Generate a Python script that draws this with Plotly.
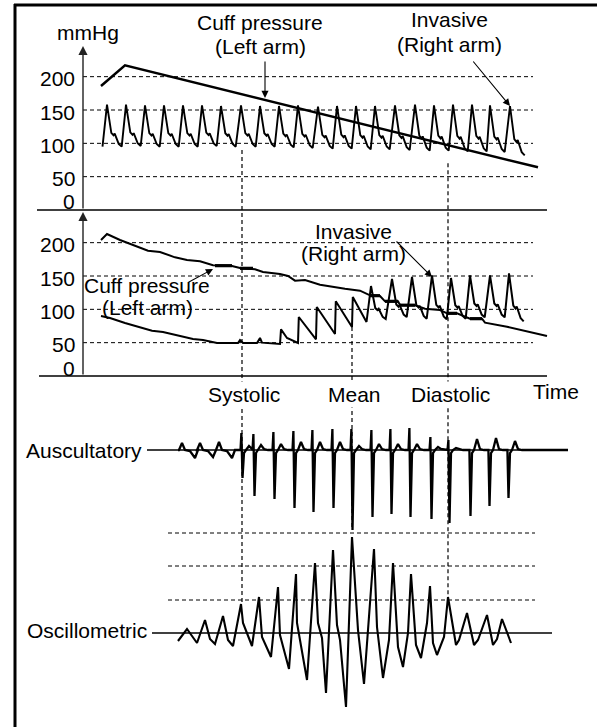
import plotly.graph_objects as go

# ---------------- data ----------------
# time: arbitrary units (0 = pressure axis); pressure: mmHg;
# auscultatory / oscillometric amplitudes: arbitrary units
TICK_VALUES = [0, 50, 100, 150, 200]
TICK_LABELS = ["0", "50", "100", "150", "200"]
GRID_VALUES = [50, 100, 150, 200]
GRID_T = [0, 450]
TOP_AXIS_T = [-46, 464]
MID_AXIS_T = [-44, 464]

# top panel
TOP_CUFF_T = [18, 42, 455]
TOP_CUFF_MMHG = [186, 217, 64]
TOP_BEAT_T = [24, 43, 62, 81, 100, 119, 138, 158, 177, 196, 215, 235, 254, 273,
              292, 312, 332, 351, 370, 389, 407, 427]
TOP_PEAK_MMHG = [158, 158, 157, 157, 157, 157, 156, 157, 156, 156, 157, 155, 156, 156,
                 156, 157, 158, 157, 158, 158, 157, 156]
TOP_TROUGH_MMHG = [95, 95, 96, 95, 95, 95, 96, 95, 95, 95, 94, 93, 92, 92, 91, 91, 90,
                   89, 89, 88, 88, 87, 82]

# middle panel
MID_CUFF_T = [18, 24, 37, 52, 65, 77, 92, 104, 117, 130, 149, 157, 172, 180, 197, 205,
              212, 222, 237, 262, 277, 287, 297, 302, 315, 317, 332, 342, 357, 364,
              374, 387, 399, 402, 424, 464]
MID_CUFF_MMHG = [204, 213, 204, 196, 188, 186, 178, 174, 172, 166, 165, 162, 160, 156,
                 153, 150, 143, 144, 137, 131, 128, 121, 120, 112, 112, 106.5, 106, 101,
                 99, 94, 94, 86, 86, 80, 74, 60]
# short stretches where the cuff trace is drawn heavier (start t, end t, mmHg)
MID_CUFF_BOLD_T0 = [132, 157, 287, 302, 317, 364, 387]
MID_CUFF_BOLD_T1 = [149, 170, 297, 315, 332, 374, 399]
MID_CUFF_BOLD_MMHG = [165.5, 161.5, 120.5, 112, 106.2, 94, 86]
MID_PRE_T = [18, 27, 42, 69, 80, 97, 110, 120, 134, 155, 157, 160, 174, 177, 179, 197,
             198, 204, 214]
MID_PRE_MMHG = [90, 87, 79.5, 68, 66, 60, 55.5, 54, 49.5, 49.5, 54, 49.5, 49.5, 57, 50,
                48, 70, 57, 49.5]
MID_SAW_T = [215, 233, 252, 269]
MID_SAW_PEAK = [88.5, 103.5, 112, 118.5]
MID_SAW_TROUGH = [49.5, 55, 63, 73.5]
MID_BEAT_T = [288, 309, 329, 349, 368, 387, 407, 426]
MID_PEAK = [135, 145.5, 148.5, 151, 147, 151, 151, 154]
MID_TROUGH = [81, 85.5, 88.5, 86, 85, 86, 88, 88, 82]

# auscultatory (Korotkoff sounds)
AUS_PRE_T = [99, 117, 136]
AUS_PRE_UP = [7, 7, 8]
AUS_PRE_DIP = [8, 7, 8]
AUS_BEAT_T = [159, 171, 191, 211, 230, 250, 269, 289, 308, 327, 348, 366, 387, 406, 425]
AUS_UP = [17, 16, 18, 19, 20, 21, 21, 20, 21, 22, 13, 10, 0, 0, 0]
AUS_DOWN = [28, 46, 49, 58, 62, 58, 80, 67, 64, 67, 69, 73, 66, 56, 48]
AUS_BUMP = [4, 5, 6, 8, 8, 8, 4, 6, 6, 6, 3, 2, 11, 12, 9]
AUS_START_T = 95
AUS_END_T = 485
AUS_BASE_T = [64, 485]

# oscillometric
OSC_T = [95, 104, 114, 122, 127, 132, 140, 145, 150, 158, 160, 167, 169, 176, 179, 188,
         195, 197, 206, 213, 214, 224, 232, 235, 239, 243, 250, 254, 257, 263, 269, 275,
         281, 291, 294, 300, 306, 310, 315, 320, 325, 328, 333, 338, 344, 347, 350, 354,
         361, 365, 373, 376, 384, 391, 395, 404, 410, 414, 419, 428]
OSC_AMP = [-8, 4, -10, 13, -6, -11, 17, -7, -13, 29, 10, -7, -13, 36, -4, -24,
           46, -2, -36, 59, 10, -47, 70, 10, -5, -60, 83, 8, -7, -74, 96, 3,
           -51, 84, 6, -45, -7, 70, -14, -34, 0, 59, -12, -25, 10, 47, -10, -22,
           -4, 36, -12, -7, 20, -12, -7, 18, -12, -6, 14, -10]
OSC_GRID = [33, 67, 100]
OSC_GRID_T = [85, 452]
OSC_BASE_T = [69, 469]

# measurement markers
MARKER_NAMES = ["Systolic", "Mean", "Diastolic"]
MARKER_T = [159, 269, 365]
MARKER_FROM = [("y", 90), ("y2", 73.5), ("y", 70)]
MARKER_TO = [("y4", 29), ("y3", -80), ("y4", 36)]

# ---------------- layout geometry (pixels of a 597 x 727 canvas) ----------------
W, H = 597, 727
X_RANGE = [-83, 514]
RANGES = {
    "y": [-775.5, 315],    # top pressure panel
    "y2": [-526.5, 564],   # middle pressure panel
    "y3": [-277, 450],     # auscultatory
    "y4": [-94, 633],      # oscillometric
}
FONT = "Liberation Sans, Arial, Helvetica, sans-serif"
FS = 21


def to_paper(axis, v):
    r0, r1 = RANGES[axis]
    return (v - r0) / (r1 - r0)


# pulse templates (shape only; levels come from the arrays above)
ART_DT = [-4.5, 0, 4.3, 6.5, 7.7, 11.7, 14.7]
ART_FRAC = [0, 1, 0.33, 0.27, 0.31, 0.065, 0]


def arterial(beat_t, peaks, troughs):
    t = [beat_t[0] + ART_DT[0]]
    v = [troughs[0]]
    for i, (bt, pk) in enumerate(zip(beat_t, peaks)):
        base = troughs[i + 1]
        for dt, fr in zip(ART_DT[1:], ART_FRAC[1:]):
            t.append(bt + dt)
            v.append(base + fr * (pk - base))
    return t, v


top_inv_t, top_inv_v = arterial(TOP_BEAT_T, TOP_PEAK_MMHG, TOP_TROUGH_MMHG)

mid_inv_t = list(MID_PRE_T)
mid_inv_v = list(MID_PRE_MMHG)
for bt, pk, tr in zip(MID_SAW_T, MID_SAW_PEAK, MID_SAW_TROUGH):
    mid_inv_t += [bt, bt + 0.8]
    mid_inv_v += [tr, pk]
t2, v2 = arterial(MID_BEAT_T, MID_PEAK, MID_TROUGH)
mid_inv_t += t2
mid_inv_v += v2

# auscultatory signal
aus_t = [AUS_START_T]
aus_v = [0]
for bt, up, dip in zip(AUS_PRE_T, AUS_PRE_UP, AUS_PRE_DIP):
    for dt, val in zip([-3, 0, 3, 8, 13, 16], [0, up, 0, -1, -dip, 0]):
        aus_t.append(bt + dt)
        aus_v.append(val)
K_DT = [-1.5, -0.6, 0.5, 2.0, 4, 7, 10, 14]
for i, bt in enumerate(AUS_BEAT_T):
    nxt = AUS_BEAT_T[i + 1] + K_DT[0] if i + 1 < len(AUS_BEAT_T) else 1e9
    vals = [0, AUS_UP[i], -AUS_DOWN[i], -3, 0, AUS_BUMP[i], 1, 0]
    for dt, val in zip(K_DT, vals):
        if bt + dt < nxt:
            aus_t.append(bt + dt)
            aus_v.append(val)
aus_t.append(AUS_END_T)
aus_v.append(0)


def hlines(values, t0, t1):
    xs, ys = [], []
    for v, a, b in zip(values, t0, t1):
        xs += [a, b, None]
        ys += [v, v, None]
    return xs, ys


fig = go.Figure()
DASH = "4px,3px"

gx, gy = hlines(GRID_VALUES, [GRID_T[0]] * 4, [GRID_T[1]] * 4)
fig.add_trace(go.Scatter(x=gx, y=gy, yaxis="y", mode="lines",
                         line=dict(color="black", width=1, dash=DASH)))
fig.add_trace(go.Scatter(x=gx, y=gy, yaxis="y2", mode="lines",
                         line=dict(color="black", width=1, dash=DASH)))
ox, oy = hlines(OSC_GRID, [OSC_GRID_T[0]] * 3, [OSC_GRID_T[1]] * 3)
fig.add_trace(go.Scatter(x=ox, y=oy, yaxis="y4", mode="lines",
                         line=dict(color="black", width=1, dash=DASH)))

# panel time axes and signal baselines
fig.add_trace(go.Scatter(x=TOP_AXIS_T, y=[0, 0], yaxis="y", mode="lines",
                         line=dict(color="black", width=1.3)))
fig.add_trace(go.Scatter(x=MID_AXIS_T, y=[0, 0], yaxis="y2", mode="lines",
                         line=dict(color="black", width=1.3)))
fig.add_trace(go.Scatter(x=AUS_BASE_T, y=[0, 0], yaxis="y3", mode="lines",
                         line=dict(color="black", width=1.3)))
fig.add_trace(go.Scatter(x=OSC_BASE_T, y=[0, 0], yaxis="y4", mode="lines",
                         line=dict(color="black", width=1.3)))

# pressure traces
fig.add_trace(go.Scatter(x=TOP_CUFF_T, y=TOP_CUFF_MMHG, yaxis="y", mode="lines",
                         line=dict(color="black", width=2.5)))
fig.add_trace(go.Scatter(x=top_inv_t, y=top_inv_v, yaxis="y", mode="lines",
                         line=dict(color="black", width=1.9)))
fig.add_trace(go.Scatter(x=MID_CUFF_T, y=MID_CUFF_MMHG, yaxis="y2", mode="lines",
                         line=dict(color="black", width=2)))
bx, by = hlines(MID_CUFF_BOLD_MMHG, MID_CUFF_BOLD_T0, MID_CUFF_BOLD_T1)
fig.add_trace(go.Scatter(x=bx, y=by, yaxis="y2", mode="lines",
                         line=dict(color="black", width=3.2)))
fig.add_trace(go.Scatter(x=mid_inv_t, y=mid_inv_v, yaxis="y2", mode="lines",
                         line=dict(color="black", width=2)))
fig.add_trace(go.Scatter(x=aus_t, y=aus_v, yaxis="y3", mode="lines",
                         line=dict(color="black", width=2.3)))
fig.add_trace(go.Scatter(x=OSC_T, y=OSC_AMP, yaxis="y4", mode="lines",
                         line=dict(color="black", width=2.1)))

shapes = [
    dict(type="line", xref="paper", yref="paper", x0=15 / W, x1=15 / W, y0=0, y1=1 - 4 / H,
         line=dict(color="black", width=3)),
    dict(type="line", xref="paper", yref="paper", x0=14 / W, x1=1, y0=1 - 5 / H, y1=1 - 5 / H,
         line=dict(color="black", width=3)),
]
for t, (a0, v0), (a1, v1) in zip(MARKER_T, MARKER_FROM, MARKER_TO):
    shapes.append(dict(type="line", xref="x", yref="paper", x0=t, x1=t,
                       y0=to_paper(a0, v0), y1=to_paper(a1, v1),
                       line=dict(color="black", width=1.2, dash=DASH)))

ann = []
# tick labels of both pressure axes
for yref, shift0 in (("y", 8.5), ("y2", 8)):
    for val, lab in zip(TICK_VALUES, TICK_LABELS):
        ann.append(dict(x=0, y=val, xref="x", yref=yref, text=lab, showarrow=False,
                        xanchor="right", yanchor="middle", xshift=-6,
                        yshift=shift0 if val == 0 else -2))
    # vertical axis with arrow
    ann.append(dict(x=0, y=246, ax=0, ay=0, xref="x", yref=yref, axref="x", ayref=yref,
                    text="", showarrow=True, arrowhead=2, arrowsize=1.3, arrowwidth=1.4,
                    arrowcolor="#222", standoff=0))


def text(t, v, yref, s, **kw):
    d = dict(x=t, y=v, xref="x", yref=yref, text=s, showarrow=False,
             xanchor="center", yanchor="middle", borderpad=0)
    d.update(kw)
    ann.append(d)


def arrow(t_tail, v_tail, t_head, v_head, yref):
    ann.append(dict(x=t_head, y=v_head, ax=t_tail, ay=v_tail, xref="x", yref=yref,
                    axref="x", ayref=yref, text="", showarrow=True, arrowhead=2,
                    arrowsize=1.3, arrowwidth=1.1, arrowcolor="black", standoff=0))


text(4.5, 266, "y", "mmHg")
text(177, 281, "y", "Cuff pressure")
text(177, 245, "y", "(Left arm)")
arrow(182, 225, 182, 168, "y")
text(366, 286, "y", "Invasive")
text(366, 249, "y", "(Right arm)")
arrow(389, 225, 427, 156, "y")

text(270, 217, "y2", "Invasive")
text(270, 184.5, "y2", "(Right arm)")
arrow(312, 204, 349, 148.5, "y2")
text(64, 136, "y2", "Cuff pressure")
text(64, 102.5, "y2", "(Left arm)")
arrow(104, 139.5, 130, 160.5, "y2")

for name, t in zip(MARKER_NAMES, MARKER_T):
    text(t, -27, "y2", name, xshift=2, bgcolor="white", borderpad=1)
text(473, -22.5, "y2", "Time")

text(60, 0, "y3", "Auscultatory", xanchor="right")
text(65, 2.5, "y4", "Oscillometric", xanchor="right")

layout_axes = {}
for key, name in (("y", "yaxis"), ("y2", "yaxis2"), ("y3", "yaxis3"), ("y4", "yaxis4")):
    ax = dict(range=RANGES[key], visible=False, fixedrange=True)
    if key != "y":
        ax["overlaying"] = "y"
    layout_axes[name] = ax

fig.update_layout(
    width=W, height=H, autosize=False,
    margin=dict(l=0, r=0, t=0, b=0, pad=0),
    paper_bgcolor="white", plot_bgcolor="white",
    showlegend=False,
    font=dict(family=FONT, size=FS, color="black"),
    xaxis=dict(range=X_RANGE, visible=False, fixedrange=True),
    shapes=shapes, annotations=ann,
    **layout_axes,
)

fig.write_html("out.html", config={"displayModeBar": False, "staticPlot": True},
               post_script="document.body.style.margin='0';document.body.style.overflow='hidden';")
